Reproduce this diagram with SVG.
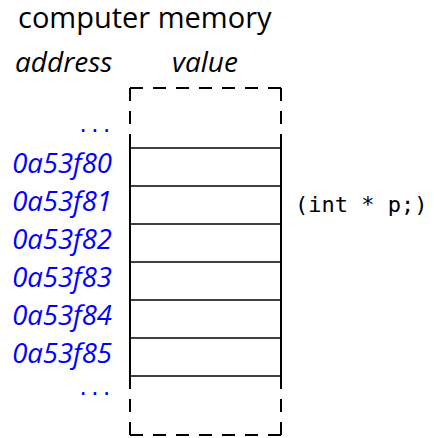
<svg xmlns="http://www.w3.org/2000/svg" width="434" height="438" viewBox="0 0 434 438">
<style>
.t{font-family:"Open Sans","Noto Sans",sans-serif;fill:#000}
.i{font-style:italic}
.a{font-family:"Open Sans","Noto Sans",sans-serif;font-style:italic;fill:#0000ff;font-size:27.5px;text-anchor:end}
.m{font-family:"DejaVu Sans Mono",monospace;font-size:22px}
.dots{font-family:"DejaVu Sans Mono",monospace;font-size:19.5px;fill:#0000ff;text-anchor:end}
.s{stroke:#000;stroke-width:2;fill:none}
.h{stroke:#000;stroke-width:1.6;fill:none}
.d{stroke:#000;stroke-width:2;fill:none;stroke-dasharray:13 10}
</style>
<rect width="434" height="438" fill="#fff"/>
<g id="title"><text class="t" x="18" y="28" font-size="29">computer memory</text></g>
<g id="headers">
<text class="t i" x="15" y="72" font-size="28">address</text>
<text class="t i" x="172" y="72" font-size="28">value</text>
</g>
<g id="memory">
<line class="d" x1="130" y1="88" x2="130" y2="148"/>
<line class="d" x1="281" y1="88" x2="281" y2="148"/>
<line class="d" x1="130" y1="88" x2="281" y2="88"/>
<line class="d" x1="130" y1="435" x2="130" y2="376"/>
<line class="d" x1="281" y1="435" x2="281" y2="376"/>
<line class="d" x1="130" y1="435" x2="281" y2="435"/>
<line class="s" x1="130" y1="147" x2="130" y2="377"/>
<line class="s" x1="281" y1="147" x2="281" y2="377"/>
<line class="h" x1="130" y1="148" x2="281" y2="148"/>
<line class="h" x1="130" y1="186" x2="281" y2="186"/>
<line class="h" x1="130" y1="224" x2="281" y2="224"/>
<line class="h" x1="130" y1="262" x2="281" y2="262"/>
<line class="h" x1="130" y1="300" x2="281" y2="300"/>
<line class="h" x1="130" y1="338" x2="281" y2="338"/>
<line class="h" x1="130" y1="376" x2="281" y2="376"/>
</g>
<g id="addresses">
<text class="dots" x="112.6" y="131.5">...</text>
<text class="a" x="112" y="172.5">0a53f80</text>
<text class="a" x="112" y="210.5">0a53f81</text>
<text class="a" x="112" y="248.5">0a53f82</text>
<text class="a" x="112" y="286.5">0a53f83</text>
<text class="a" x="112" y="324.5">0a53f84</text>
<text class="a" x="112" y="362.5">0a53f85</text>
<text class="dots" x="112.6" y="394.5">...</text>
</g>
<g id="label"><text class="m" x="295" y="212" fill="#000">(int * p;)</text></g>
</svg>
